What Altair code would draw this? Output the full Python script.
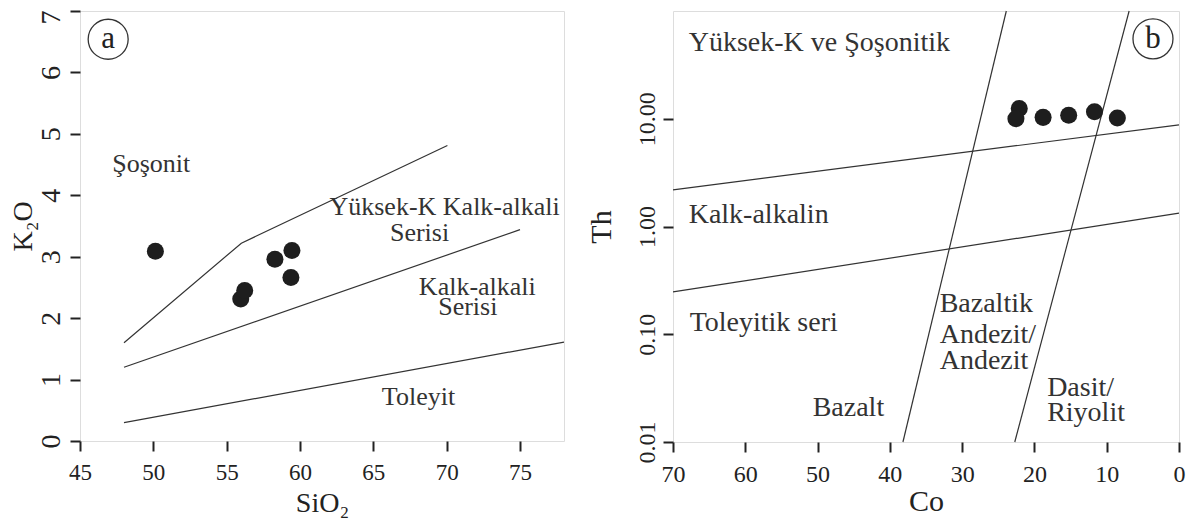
import altair as alt
import pandas as pd

FONT = "Liberation Serif"
INK = "#222222"
LINE = "#333333"

# ---------------- panel a : K2O vs SiO2 ----------------
a_sio2 = [50.14, 55.96, 56.23, 58.29, 59.45, 59.38]
a_k2o = [3.09, 2.31, 2.45, 2.96, 3.10, 2.66]

a_line_id = ["upper", "upper", "upper", "middle", "middle", "lower", "lower"]
a_line_sio2 = [48.0, 56.0, 70.05, 48.0, 75.0, 48.0, 78.0]
a_line_k2o = [1.60, 3.22, 4.81, 1.20, 3.44, 0.30, 1.61]

a_labels = ["Şoşonit", "Yüksek-K Kalk-alkali", "Serisi", "Kalk-alkali", "Serisi", "Toleyit"]
a_label_sio2 = [49.86, 69.86, 68.15, 72.09, 71.44, 68.08]
a_label_k2o = [4.51, 3.81, 3.39, 2.50, 2.18, 0.71]

a_x_ticks = [45, 50, 55, 60, 65, 70, 75]
a_y_ticks = [0, 1, 2, 3, 4, 5, 6, 7]

# ---------------- panel b : Th vs Co ----------------
b_co = [22.10, 22.56, 18.80, 15.26, 11.69, 8.53]
b_th = [12.45, 10.0, 10.3, 10.77, 11.63, 10.17]

b_line_id = ["h_upper", "h_upper", "h_lower", "h_lower", "v_left", "v_left", "v_right", "v_right"]
b_line_co = [70, 0, 70, 0, 38.19, 23.89, 22.72, 6.90]
b_line_th = [2.19, 8.79, 0.247, 1.33, 0.01, 100, 0.01, 100]

b_labels = ["Yüksek-K ve Şoşonitik", "Kalk-alkalin", "Toleyitik seri", "Bazaltik",
            "Andezit/", "Andezit", "Dasit/", "Riyolit", "Bazalt"]
b_label_co = [67.83, 67.83, 67.70, 33.11, 33.11, 33.11, 18.24, 18.24, 50.68]
b_label_th = [50.2, 1.27, 0.127, 0.192, 0.0993, 0.056, 0.0318, 0.0186, 0.0207]

b_x_ticks = [70, 60, 50, 40, 30, 20, 10, 0]
b_y_ticks = [0.01, 0.1, 1, 10]

# ---------------- shared styling ----------------
def axis(title, values, label_size, title_size, label_pad, title_pad, rotated=False,
         fmt=None, label_offset=None):
    kw = dict(
        title=title, values=values, tickSize=10, tickWidth=2, tickColor=INK,
        domain=False, grid=False, labelFont=FONT, labelFontSize=label_size,
        labelColor=INK, labelPadding=label_pad, labelFlush=False,
        titleFont=FONT, titleFontSize=title_size, titleFontWeight="normal",
        titleColor=INK, titlePadding=title_pad,
    )
    if rotated:
        kw.update(labelAngle=-90, labelAlign="center", labelBaseline="bottom")
    if fmt:
        kw.update(format=fmt)
    if label_offset is not None:
        kw.update(labelOffset=label_offset)
    return alt.Axis(**kw)

# ---------------- panel a chart ----------------
ax_ax = axis("SiO₂", a_x_ticks, 23, 28, 10, 5)
ax_ay = axis("K₂O", a_y_ticks, 28, 28, 5, 0, rotated=True,
             label_offset={"condition": {"test": "datum.value == 7", "value": 6}, "value": 0})
a_xs = alt.Scale(domain=[45, 78], nice=False, zero=False)
a_ys = alt.Scale(domain=[0, 7], nice=False, zero=False)

def ax_(f="x"):
    return alt.X(f"{f}:Q", scale=a_xs, axis=ax_ax)

def ay_(f="y"):
    return alt.Y(f"{f}:Q", scale=a_ys, axis=ax_ay)

a_pts = pd.DataFrame({"x": a_sio2, "y": a_k2o})
a_lines = pd.DataFrame({"x": a_line_sio2, "y": a_line_k2o, "g": a_line_id,
                        "o": list(range(len(a_line_id)))})
a_txt = pd.DataFrame({"x": a_label_sio2, "y": a_label_k2o, "t": a_labels})
a_tag = pd.DataFrame({"x": [46.92], "y": [6.54], "t": ["a"]})

a_line_layer = alt.Chart(a_lines).mark_line(color=LINE, strokeWidth=1.2).encode(
    x=ax_(), y=ay_(), detail="g:N", order="o:Q")
a_pt_layer = alt.Chart(a_pts).mark_circle(size=290, color="#1e1e1e", opacity=1).encode(
    x=ax_(), y=ay_())
a_txt_layer = alt.Chart(a_txt).mark_text(font=FONT, fontSize=26, color=LINE,
                                         align="center", baseline="middle").encode(
    x=ax_(), y=ay_(), text="t:N")
a_ring = alt.Chart(a_tag).mark_point(shape="circle", size=1600, filled=False,
                                     color=LINE, strokeWidth=1.3, opacity=1).encode(
    x=ax_(), y=ay_())
a_letter = alt.Chart(a_tag).mark_text(font=FONT, fontSize=31, color=INK,
                                      align="center", baseline="middle").encode(
    x=ax_(), y=ay_(), text="t:N")

panel_a = alt.layer(a_line_layer, a_txt_layer, a_ring, a_letter, a_pt_layer).properties(
    width=484, height=430)

# ---------------- panel b chart ----------------
bx_ax = axis("Co", b_x_ticks, 24, 30, 10, 0)
by_ax = axis("Th", b_y_ticks, 24, 30, 4, 19, rotated=True, fmt=".2f")
b_xs = alt.Scale(domain=[0, 70], reverse=True, nice=False, zero=False)
b_ys = alt.Scale(type="log", domain=[0.01, 100], nice=False)

def bx_(f="x"):
    return alt.X(f"{f}:Q", scale=b_xs, axis=bx_ax)

def by_(f="y"):
    return alt.Y(f"{f}:Q", scale=b_ys, axis=by_ax)

b_pts = pd.DataFrame({"x": b_co, "y": b_th})
b_lines = pd.DataFrame({"x": b_line_co, "y": b_line_th, "g": b_line_id,
                        "o": list(range(len(b_line_id)))})
b_txt = pd.DataFrame({"x": b_label_co, "y": b_label_th, "t": b_labels})
b_tag = pd.DataFrame({"x": [3.6], "y": [55.2], "t": ["b"]})

b_line_layer = alt.Chart(b_lines).mark_line(color=LINE, strokeWidth=1.2).encode(
    x=bx_(), y=by_(), detail="g:N", order="o:Q")
b_pt_layer = alt.Chart(b_pts).mark_circle(size=290, color="#1e1e1e", opacity=1).encode(
    x=bx_(), y=by_())
b_txt_layer = alt.Chart(b_txt).mark_text(font=FONT, fontSize=28, color=LINE,
                                         align="left", baseline="middle").encode(
    x=bx_(), y=by_(), text="t:N")
b_ring = alt.Chart(b_tag).mark_point(shape="circle", size=1600, filled=False,
                                     color=LINE, strokeWidth=1.3, opacity=1).encode(
    x=bx_(), y=by_())
b_letter = alt.Chart(b_tag).mark_text(font=FONT, fontSize=31, color=INK,
                                      align="center", baseline="middle").encode(
    x=bx_(), y=by_(), text="t:N")

panel_b = alt.layer(b_line_layer, b_txt_layer, b_ring, b_letter, b_pt_layer).properties(
    width=506, height=431)

chart = alt.hconcat(panel_a, panel_b, spacing=109, bounds="flush").properties(
    padding={"left": 0, "top": 0, "right": 0, "bottom": 0}
).configure_view(stroke=INK, strokeWidth=2.5).configure(background="white")

chart.save("out.html", embed_options={"renderer": "svg", "actions": False})
